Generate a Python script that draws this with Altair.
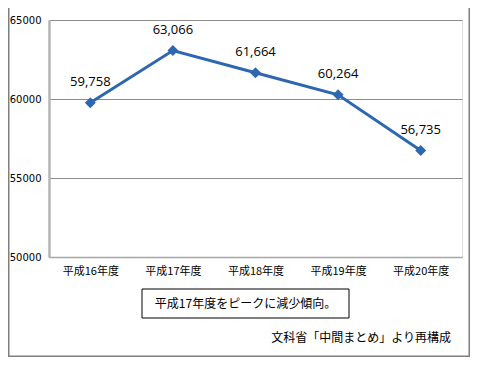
import altair as alt
import pandas as pd

categories = ["平成16年度", "平成17年度", "平成18年度", "平成19年度", "平成20年度"]
values = [59758, 63066, 61664, 60264, 56735]
y_ticks = [50000, 55000, 60000, 65000]
note_text = "平成17年度をピークに減少傾向。"
source_text = "文科省「中間まとめ」より再構成"

df = pd.DataFrame({"year": categories, "value": values})
df["label"] = [f"{v:,}" for v in values]

BLUE = "#2D67B0"
JP = "Noto Sans CJK JP"

x_enc = alt.X("year:N", sort=categories, title=None,
              scale=alt.Scale(type="point", padding=0.5),
              axis=alt.Axis(labelAngle=0, labelFont=JP, labelFontSize=11,
                            labelColor="#000", ticks=False, domain=True,
                            domainColor="#A6A6A6", domainWidth=1.5,
                            labelPadding=8, grid=False))
y_enc = alt.Y("value:Q", title=None,
              scale=alt.Scale(domain=[50000, 65000], nice=False, zero=False),
              axis=alt.Axis(values=y_ticks, format="d", labelFont="DejaVu Sans",
                            labelFontSize=10, labelColor="#000", ticks=False,
                            domainColor="#B4B4B4", domainWidth=2.5,
                            labelPadding=8, grid=True, gridColor="#8C8C8C",
                            gridWidth=1))

base = alt.Chart(df)
line = base.mark_line(color=BLUE, strokeWidth=3).encode(x=x_enc, y=y_enc)
pts = base.mark_point(shape="diamond", filled=True, color=BLUE, size=120, opacity=1).encode(
    x=alt.X("year:N", sort=categories), y="value:Q")
labels = base.mark_text(font="Open Sans", fontSize=13, dy=-21, color="#000").encode(
    x=alt.X("year:N", sort=categories), y="value:Q", text="label:N")

one = alt.Data(values=[{"a": 1}])
note_box = alt.Chart(one).mark_rect(fill="white", stroke="#000", strokeWidth=1).encode(
    x=alt.value(93), x2=alt.value(300), y=alt.value(269), y2=alt.value(298))
note = alt.Chart(one).mark_text(text=note_text, font=JP, fontSize=12, color="#000",
                                align="center", baseline="middle").encode(
    x=alt.value(196.5), y=alt.value(284))
source = alt.Chart(one).mark_text(text=source_text, font=JP, fontSize=12, color="#000",
                                  align="right", baseline="middle").encode(
    x=alt.value(402), y=alt.value(318))
border_l = alt.Chart(one).mark_rule(color="#7F7F7F", strokeWidth=1.5).encode(
    x=alt.value(-40.25), y=alt.value(-12), y2=alt.value(337))
border_r = alt.Chart(one).mark_rule(color="#7F7F7F", strokeWidth=1.5).encode(
    x=alt.value(420.25), y=alt.value(-12), y2=alt.value(337))
border_b = alt.Chart(one).mark_rule(color="#7F7F7F", strokeWidth=1.5).encode(
    x=alt.value(-41), x2=alt.value(421), y=alt.value(336.25))

chart = alt.layer(line, pts, labels, note_box, note, source, border_l, border_r, border_b).properties(
    width=413, height=237,
    autosize=alt.AutoSizeParams(type="none"),
    padding={"left": 41, "top": 12, "right": 8, "bottom": 100},
).configure_view(stroke=None).configure(background="white")

chart.save("out.html", embed_options={"renderer": "svg", "actions": False})
